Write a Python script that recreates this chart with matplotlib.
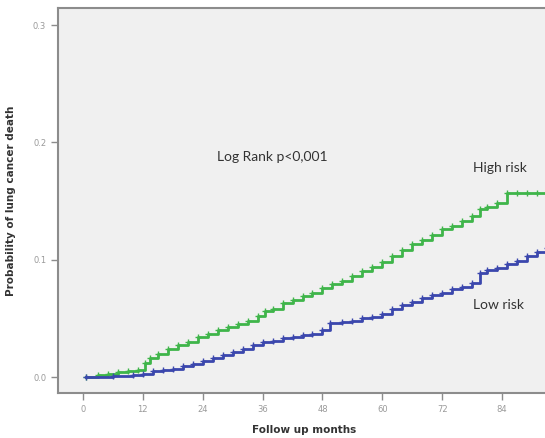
import matplotlib
matplotlib.use("Agg")
import matplotlib.pyplot as plt

# Kaplan-Meier style cumulative incidence
high_t = [0.7, 3, 5, 7, 9, 11, 12.5, 13.5, 15, 17, 19, 21, 23, 25, 27, 29, 31, 33, 35,
          36.5, 38, 40, 42, 44, 46, 48, 50, 52, 54, 56, 58, 60, 62, 64, 66, 68, 70, 72,
          74, 76, 78, 79.5, 81, 83, 85, 87, 89, 91, 93]
high_p = [0, 0.002, 0.003, 0.004, 0.005, 0.006, 0.012, 0.016, 0.020, 0.024, 0.027, 0.030,
          0.034, 0.037, 0.040, 0.043, 0.045, 0.048, 0.052, 0.056, 0.058, 0.063, 0.066,
          0.069, 0.072, 0.076, 0.079, 0.082, 0.086, 0.090, 0.094, 0.098, 0.103, 0.108,
          0.113, 0.117, 0.121, 0.126, 0.129, 0.133, 0.137, 0.143, 0.145, 0.148, 0.157,
          0.157, 0.157, 0.157, 0.157]

low_t = [0.7, 6, 10, 12, 14, 16, 18, 20, 22, 24, 26, 28, 30, 32, 34, 36, 38, 40, 42, 44,
         46, 48, 49.5, 52, 54, 56, 58, 60, 62, 64, 66, 68, 70, 72, 74, 76, 78, 79.5, 81,
         83, 85, 87, 89, 91, 93]
low_p = [0, 0.001, 0.002, 0.003, 0.005, 0.006, 0.007, 0.009, 0.011, 0.014, 0.016, 0.019,
         0.021, 0.024, 0.027, 0.030, 0.031, 0.033, 0.034, 0.036, 0.037, 0.040, 0.046,
         0.047, 0.048, 0.050, 0.051, 0.054, 0.058, 0.061, 0.064, 0.067, 0.070, 0.072,
         0.075, 0.077, 0.080, 0.089, 0.091, 0.093, 0.096, 0.099, 0.103, 0.107, 0.110]

x_ticks = [0, 12, 24, 36, 48, 60, 72, 84]
y_ticks = [0.0, 0.1, 0.2, 0.3]

green = '#3fb54a'
blue = '#3b47ad'

fig = plt.figure(figsize=(5.45, 4.38), dpi=100)
ax = fig.add_axes([0.1064, 0.1027, 0.9028, 0.8790])
ax.set_facecolor('#f0f0f0')

ax.step(high_t, high_p, where='post', color=green, lw=2.0, marker='+', ms=4, mew=1.0)
ax.step(low_t, low_p, where='post', color=blue, lw=2.0, marker='+', ms=4, mew=1.0)

ax.set_xlim(-5.0, 93.6)
ax.set_ylim(-0.0136, 0.3145)
ax.set_xticks(x_ticks)
ax.set_yticks(y_ticks)
ax.set_yticklabels(['%.1f' % v for v in y_ticks])

for side in ['left', 'top', 'bottom']:
    ax.spines[side].set_color('#8c8c8c')
    ax.spines[side].set_linewidth(1.5)
ax.spines['right'].set_visible(False)
ax.tick_params(colors='#8c8c8c', labelcolor='#9a9a9a', labelsize=6, length=5, width=1)

ax.set_xlabel('Follow up months', fontsize=7.5, fontweight='bold', color='#333333', labelpad=8)
ax.set_ylabel('Probability of lung cancer death', fontsize=7.5, fontweight='bold',
              color='#333333', labelpad=12)

ax.text(37.9, 0.1875, 'Log Rank p<0,001', fontsize=10, family='Lato', color='#333333',
        ha='center', va='center')
ax.text(78.2, 0.178, 'High risk', fontsize=10, family='Lato', color='#333333',
        ha='left', va='center')
ax.text(78.2, 0.0614, 'Low risk', fontsize=10, family='Lato', color='#333333',
        ha='left', va='center')

fig.savefig('out.png', dpi=100)
